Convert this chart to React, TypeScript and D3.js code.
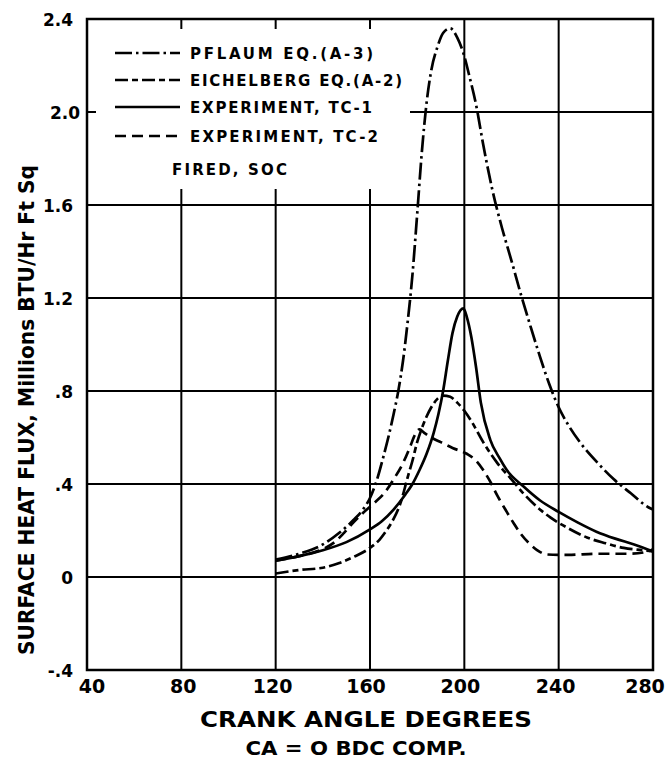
import React from "react";
import * as d3 from "d3";

// ---- axis ticks ----
const xTicks = [40, 80, 120, 160, 200, 240, 280];
const xTickLabels = ["40", "80", "120", "160", "200", "240", "280"];
const yTicks = [-0.4, 0, 0.4, 0.8, 1.2, 1.6, 2.0, 2.4];
const yTickLabels = ["-.4", "0", ".4", ".8", "1.2", "1.6", "2.0", "2.4"];
const xGrid = [80, 120, 160, 200, 240];
const yGrid = [0, 0.4, 0.8, 1.2, 1.6, 2.0];

// ---- series (crank angle, heat flux) ----
const pflaumCA = [120, 130, 140, 147, 153, 157, 160, 163, 166, 168, 170, 172, 174, 176, 178, 180, 182, 184, 186, 188.6, 191, 194, 197, 200, 202, 205, 208, 212, 216, 220, 224, 228, 232, 236, 240, 244, 249, 256.6, 263.4, 270.6, 278, 280];
const pflaumQ = [0.075, 0.1, 0.14, 0.19, 0.245, 0.29, 0.34, 0.42, 0.53, 0.61, 0.7, 0.8, 0.93, 1.1, 1.3, 1.56, 1.83, 2.04, 2.18, 2.28, 2.34, 2.36, 2.32, 2.24, 2.16, 2.03, 1.86, 1.66, 1.5, 1.36, 1.215, 1.08, 0.95, 0.83, 0.73, 0.655, 0.58, 0.49, 0.42, 0.36, 0.3, 0.29];

const eichCA = [120, 130, 140, 147, 153, 160, 164, 167, 170, 173, 176, 178, 180, 182, 184, 186, 188.5, 191, 194, 197, 200, 203, 208, 214, 220, 225, 231, 236.6, 244, 252, 260, 267.6, 276, 280];
const eichQ = [0.015, 0.03, 0.04, 0.06, 0.086, 0.125, 0.16, 0.2, 0.25, 0.32, 0.43, 0.5, 0.58, 0.64, 0.69, 0.73, 0.765, 0.78, 0.775, 0.75, 0.715, 0.67, 0.58, 0.49, 0.42, 0.36, 0.3, 0.255, 0.21, 0.17, 0.145, 0.125, 0.115, 0.11];

const tc1CA = [120, 130, 140, 150, 160, 165, 170, 175, 178, 181, 184, 187, 189, 191, 193, 195, 197, 199.6, 201, 203, 205, 207, 211, 215, 218, 225, 232, 240, 248, 256, 264, 272, 280];
const tc1Q = [0.07, 0.09, 0.115, 0.15, 0.205, 0.24, 0.29, 0.355, 0.4, 0.46, 0.53, 0.62, 0.7, 0.8, 0.93, 1.05, 1.12, 1.155, 1.12, 1.03, 0.9, 0.75, 0.59, 0.51, 0.46, 0.39, 0.33, 0.28, 0.235, 0.195, 0.165, 0.14, 0.11];

const tc2CA = [120, 130, 136, 140, 145, 149, 153, 157, 162, 166, 170, 174, 177, 179, 181, 183, 186, 190, 195, 201, 205, 208, 211, 214, 218, 221, 224, 228, 231, 235, 240, 244, 256, 270, 278, 280];
const tc2Q = [0.07, 0.09, 0.105, 0.12, 0.15, 0.19, 0.235, 0.275, 0.32, 0.36, 0.42, 0.49, 0.56, 0.61, 0.635, 0.62, 0.6, 0.58, 0.555, 0.53, 0.5, 0.46, 0.41, 0.35, 0.28, 0.23, 0.185, 0.14, 0.115, 0.097, 0.095, 0.095, 0.1, 0.1, 0.11, 0.12];

const legendLabels = ["PFLAUM  EQ.(A-3)", "EICHELBERG EQ.(A-2)", "EXPERIMENT, TC-1", "EXPERIMENT, TC-2"];
const legendNote = "FIRED, SOC";
const xTitle = "CRANK ANGLE DEGREES";
const xSubTitle = "CA = O BDC COMP.";
const yTitle = "SURFACE HEAT FLUX, Millions BTU/Hr Ft Sq";

const zip = (a: number[], b: number[]) => a.map((v, i) => [v, b[i]] as [number, number]);

export default function App() {
  const W = 667, H = 760;
  const left = 87, right = 653, top = 19, bottom = 670;
  const x = d3.scaleLinear().domain([40, 280]).range([left, right]);
  const y = d3.scaleLinear().domain([-0.4, 2.4]).range([bottom, top]);
  const line = d3
    .line<[number, number]>()
    .x((d) => x(d[0]))
    .y((d) => y(d[1]))
    .curve(d3.curveMonotoneX);

  const font = "'DejaVu Sans', sans-serif";
  const series = [
    { data: zip(pflaumCA, pflaumQ), dash: "17,4,2.5,4" },
    { data: zip(eichCA, eichQ), dash: "13,4,6,4" },
    { data: zip(tc1CA, tc1Q), dash: "none" },
    { data: zip(tc2CA, tc2Q), dash: "11,6" },
  ];
  const legendRows = [53, 80, 107, 136];
  const legendLens = [183, 212, 182, 188];
  const xLabelShift = [5, 2, -3, -4, -4, -3, -8];

  return (
    <svg width={W} height={H} style={{ position: "absolute", left: 0, top: 0, background: "#fff" }}>
      <rect x={0} y={0} width={W} height={H} fill="#fff" />
      {/* grid */}
      {xGrid.map((v) => (
        <line key={"gx" + v} x1={x(v)} x2={x(v)} y1={top} y2={bottom} stroke="#000" strokeWidth={2} />
      ))}
      {yGrid.map((v) => (
        <line key={"gy" + v} x1={left} x2={right} y1={y(v)} y2={y(v)} stroke="#000" strokeWidth={1.8} />
      ))}
      {/* legend area blank */}
      <rect x={96} y={29} width={314} height={160} fill="#fff" />
      {/* frame */}
      <rect x={left} y={top} width={right - left} height={bottom - top} fill="none" stroke="#000" strokeWidth={2.5} />
      {/* curves */}
      {series.map((s, i) => (
        <path key={"s" + i} d={line(s.data) || ""} fill="none" stroke="#000" strokeWidth={2.7} strokeDasharray={s.dash} strokeLinecap="butt" />
      ))}
      {/* legend */}
      {series.map((s, i) => (
        <g key={"lg" + i}>
          <line x1={115} x2={180} y1={legendRows[i]} y2={legendRows[i]} stroke="#000" strokeWidth={2.7} strokeDasharray={s.dash} />
          <text x={190} y={legendRows[i] + 6} fontFamily={font} fontWeight="bold" fontSize={15} textLength={legendLens[i]} lengthAdjust="spacing" fill="#000">
            {legendLabels[i]}
          </text>
        </g>
      ))}
      <text x={172} y={175} fontFamily={font} fontWeight="bold" fontSize={15} textLength={115} lengthAdjust="spacing" fill="#000">
        {legendNote}
      </text>
      {/* y tick labels */}
      {yTicks.map((v, i) => (
        <text key={"yt" + v} x={v === 2.0 ? 80 : 73} y={y(v) + 6.5} fontFamily={font} fontWeight="bold" fontSize={17} textAnchor="end" fill="#000">
          {yTickLabels[i]}
        </text>
      ))}
      {/* x tick labels */}
      {xTicks.map((v, i) => (
        <text key={"xt" + v} x={x(v) + xLabelShift[i]} y={693} fontFamily={font} fontWeight="bold" fontSize={19} textAnchor="middle" fill="#000">
          {xTickLabels[i]}
        </text>
      ))}
      <text x={366} y={727} fontFamily={font} fontWeight="bold" fontSize={22} textAnchor="middle" textLength={332} lengthAdjust="spacingAndGlyphs" fill="#000">
        {xTitle}
      </text>
      <text x={356} y={755} fontFamily={font} fontWeight="bold" fontSize={19} textAnchor="middle" textLength={221} lengthAdjust="spacingAndGlyphs" fill="#000">
        {xSubTitle}
      </text>
      <text
        transform={`translate(34, ${(655 + 165) / 2}) rotate(-90)`}
        fontFamily={font}
        fontWeight="bold"
        fontSize={21}
        textAnchor="middle"
        textLength={490}
        lengthAdjust="spacingAndGlyphs"
        fill="#000"
      >
        {yTitle}
      </text>
    </svg>
  );
}
